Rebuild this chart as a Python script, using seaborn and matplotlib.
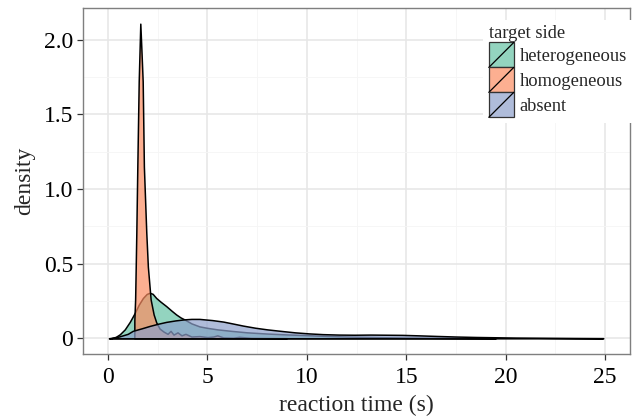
import matplotlib
matplotlib.use('Agg')
import matplotlib.pyplot as plt
import seaborn as sns
import pandas as pd
from matplotlib.patches import Patch, Rectangle
from matplotlib.lines import Line2D
from matplotlib.legend_handler import HandlerBase
from matplotlib.ticker import MultipleLocator

# density curves
het_x = [0.15, 0.4, 0.6, 0.85, 1.1, 1.35, 1.55, 1.76, 1.95, 2.1, 2.25, 2.43, 2.65, 2.93, 3.2, 3.43,
         3.65, 3.84, 4.2, 4.6, 5.0, 5.5, 6.2, 7.0, 8.0, 9.0, 10.1, 11.0, 12.0, 13.5, 15.0, 17.0, 19.5]
het_y = [0.0, 0.01, 0.027, 0.06, 0.11, 0.17, 0.225, 0.27, 0.297, 0.305, 0.298, 0.27, 0.245, 0.216, 0.185, 0.16,
         0.14, 0.127, 0.1, 0.08, 0.07, 0.06, 0.05, 0.04, 0.032, 0.026, 0.021, 0.016, 0.012, 0.008, 0.005, 0.003, 0.001]

hom_x = [1.33, 1.37, 1.40, 1.43, 1.48, 1.55, 1.63, 1.68, 1.75, 1.81, 1.93, 2.01, 2.15, 2.3, 2.43, 2.6, 2.8,
         3.0, 3.15, 3.3, 3.5, 3.7, 3.9, 4.2, 4.6, 5.0, 5.3, 5.5, 5.8, 6.3, 6.6, 7.2, 8.0, 9.0]
hom_y = [0.12, 0.26, 0.48, 0.71, 1.15, 1.72, 2.107, 1.95, 1.72, 1.15, 0.71, 0.48, 0.26, 0.16, 0.107, 0.065, 0.045,
         0.03, 0.05, 0.025, 0.04, 0.02, 0.03, 0.012, 0.015, 0.008, 0.012, 0.02, 0.006, 0.004, 0.01, 0.003, 0.002, 0.001]

abs_x = [0.05, 0.5, 1.0, 1.25, 1.7, 2.1, 2.5, 2.93, 3.4, 3.84, 4.2, 4.6, 5.25, 5.8, 6.25, 6.8, 7.4, 8.0, 8.75,
         9.4, 10.1, 10.8, 11.6, 12.4, 13.2, 14.0, 14.8, 15.6, 16.5, 17.5, 18.5, 19.5, 20.5, 21.5, 22.5, 23.5, 24.9]
abs_y = [0.0, 0.01, 0.03, 0.05, 0.067, 0.083, 0.097, 0.11, 0.12, 0.127, 0.13, 0.13, 0.122, 0.112, 0.1, 0.085,
         0.071, 0.06, 0.049, 0.04, 0.033, 0.028, 0.025, 0.024, 0.025, 0.024, 0.023, 0.02, 0.016, 0.012, 0.009,
         0.007, 0.005, 0.004, 0.003, 0.002, 0.001]

groups = ['heterogeneous', 'homogeneous', 'absent']
curves = {'heterogeneous': (het_x, het_y), 'homogeneous': (hom_x, hom_y), 'absent': (abs_x, abs_y)}

df = pd.concat([pd.DataFrame({'rt': curves[g][0], 'density': curves[g][1], 'side': g}) for g in groups])

sns.set_theme(style="whitegrid")
plt.rcParams['font.family'] = ['Liberation Serif', 'DejaVu Serif']

pal = sns.color_palette("Set2", 3)
fill_alpha = 0.7

fig = plt.figure(figsize=(6.41, 4.18), dpi=100)
ax = fig.add_axes([0.1295, 0.1531, 0.8535, 0.8278])

for g, c in zip(groups, pal):
    sub = df[df['side'] == g]
    ax.fill_between(sub['rt'], 0, sub['density'], facecolor=(*c, fill_alpha),
                    edgecolor='black', linewidth=1.1, zorder=3)

ax.set_xlim(-1.25, 26.25)
ax.set_ylim(-0.105, 2.212)
ax.xaxis.set_minor_locator(MultipleLocator(2.5))
ax.yaxis.set_minor_locator(MultipleLocator(0.25))
ax.set_yticks([0, 0.5, 1.0, 1.5, 2.0])
ax.set_yticklabels(['0', '0.5', '1.0', '1.5', '2.0'])
ax.set_xticks([0, 5, 10, 15, 20, 25])
ax.set_xticklabels(['0', '5', '10', '15', '20', '25'])

ax.set_facecolor('white')
ax.grid(which='major', color='#e6e6e6', linewidth=1.1, zorder=0)
ax.grid(which='minor', color='#f5f5f5', linewidth=0.6, zorder=0)
ax.set_axisbelow(True)
for s in ax.spines.values():
    s.set_color('#7f7f7f')
    s.set_linewidth(1.0)
ax.tick_params(which='major', direction='out', length=4, width=0.9, color='#333333',
               labelsize=17, labelcolor='black', bottom=True, left=True)
ax.tick_params(axis='x', which='major', pad=5.5)
ax.tick_params(axis='y', which='major', pad=3)
ax.tick_params(which='minor', length=0)

ax.set_xlabel('reaction time (s)', fontsize=17, labelpad=4.5)
ax.set_ylabel('density', fontsize=17, labelpad=6.5)


class KeyHandler(HandlerBase):
    def create_artists(self, legend, orig_handle, xdescent, ydescent, width, height, fontsize, trans):
        r = Rectangle((-xdescent, -ydescent), width, height, facecolor=orig_handle.get_facecolor(),
                      edgecolor='#333333', linewidth=0.9, transform=trans)
        d = Line2D([-xdescent, -xdescent + width], [-ydescent, -ydescent + height],
                   color='black', linewidth=0.9, transform=trans)
        return [r, d]


handles = [Patch(facecolor=(*c, fill_alpha), label=g) for g, c in zip(groups, pal)]
leg = ax.legend(handles=handles, title='target side', loc='upper right',
                bbox_to_anchor=(1.0046, 0.9654), fontsize=13.3, title_fontsize=13.3,
                handler_map={Patch: KeyHandler()}, handlelength=1.35, handleheight=1.70,
                labelspacing=0.0, handletextpad=0.33, borderpad=0.3, borderaxespad=0,
                frameon=True, fancybox=False, framealpha=1.0, alignment='left')
leg.get_frame().set_edgecolor('none')
leg.get_frame().set_facecolor('white')
leg.set_zorder(5)

plt.savefig('out.png', dpi=100)
plt.close()
